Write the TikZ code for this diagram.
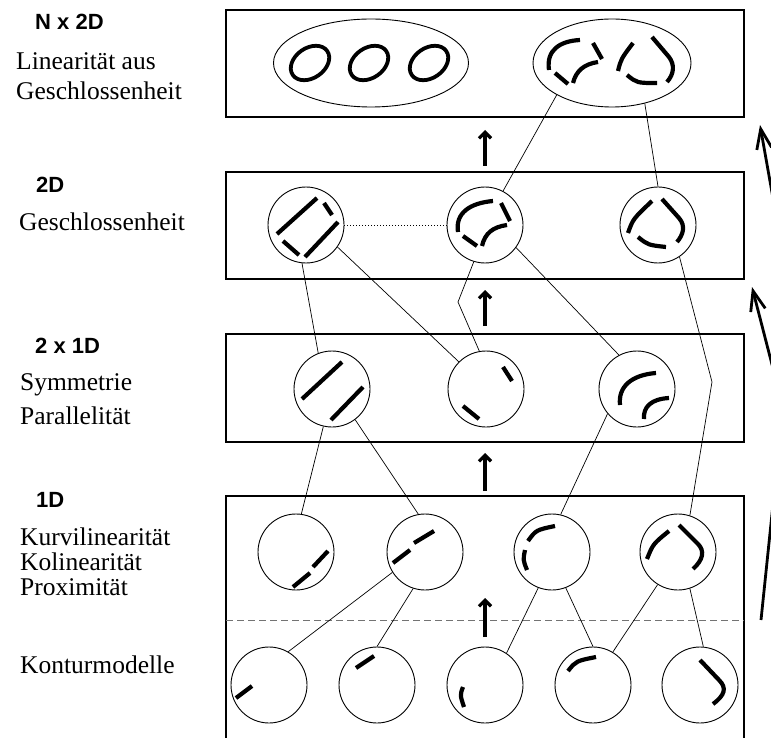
\documentclass[tikz,border=0pt]{standalone}
\usepackage{fontspec}
\setmainfont{Liberation Serif}
\newfontfamily\labelfont{Liberation Sans}
\usetikzlibrary{shapes.geometric,arrows.meta}

\begin{document}
\begin{tikzpicture}[x=1pt,y=-1pt,
  frame/.style={line width=1.3pt},
  blob/.style={draw, circle, minimum size=76pt, inner sep=0pt, line width=0.9pt},
  group/.style={draw, ellipse, inner sep=0pt, line width=0.9pt},
  link/.style={line width=0.7pt},
  seg/.style={line width=4.2pt},
  ring/.style={line width=3.8pt},
  lift/.style={line width=3.2pt, -{Straight Barb[length=6pt,width=12pt]}},
  bigarrow/.style={line width=2.8pt, -{Straight Barb[length=20pt,width=15pt]}},
  level/.style={font=\labelfont\bfseries\fontsize{22}{26}\selectfont, anchor=base west, inner sep=0pt},
  note/.style={font=\fontsize{25.5}{30}\selectfont, anchor=base west, inner sep=0pt},
]
\useasboundingbox (0,0) rectangle (771,738);
\begin{scope}
\clip (0,0) rectangle (771,738);

% level frames
\draw[frame] (226,10) rectangle (744,117);
\draw[frame] (226,172) rectangle (744,279);
\draw[frame] (226,334) rectangle (744,442);
\draw[frame] (226,760) -- (226,496) -- (744,496) -- (744,760);
\draw[line width=0.9pt, black!55, dash pattern=on 7pt off 4pt] (226,620) -- (744,620);

% level labels
\node[level] (t0) at (35,30) {N x 2D};
\node[note] (t1) at (16,70) {Linearität aus};
\node[note] (t2) at (16,100) {Geschlossenheit};
\node[level] (t3) at (36,193) {2D};
\node[note] (t4) at (19,230) {Geschlossenheit};
\node[level] (t5) at (35,353) {2 x 1D};
\node[note] (t6) at (20,390) {Symmetrie};
\node[note] (t7) at (20,424) {Parallelität};
\node[level] (t8) at (36,507) {1D};
\node[note] (t9) at (20,545) {Kurvilinearität};
\node[note] (t10) at (20,570) {Kolinearität};
\node[note] (t11) at (20,595) {Proximität};
\node[note] (t12) at (20,673) {Konturmodelle};

% N x 2D groups
\node[group, minimum width=195pt, minimum height=88pt] (E1) at (371,63) {};
\node[group, minimum width=158pt, minimum height=88pt] (E2) at (612,63) {};
% 2D
\node[blob] (A1) at (306,225) {};
\node[blob] (A2) at (485,225) {};
\node[blob] (A3) at (658,225) {};
% 2 x 1D
\node[blob] (B1) at (332,389) {};
\node[blob] (B2) at (486,389) {};
\node[blob] (B3) at (637,389) {};
% 1D
\node[blob] (C1) at (296,552) {};
\node[blob] (C2) at (425,552) {};
\node[blob] (C3) at (552,552) {};
\node[blob] (C4) at (678,552) {};
% contour models
\node[blob] (D1) at (269,685) {};
\node[blob] (D2) at (377,685) {};
\node[blob] (D3) at (485,685) {};
\node[blob] (D4) at (593,685) {};
\node[blob] (D5) at (700,685) {};

% closed contours
\foreach \cx in {310,369,429}
  \draw[ring, rotate around={35:(\cx,63)}] (\cx,63) ellipse [x radius=21, y radius=15];

% contour fragments
\begin{scope}[shift={(E2.center)}]
  \draw[seg] (-63,7) .. controls (-66,-13) and (-52,-22) .. (-32,-23);
  \draw[seg] (-19,-20) -- (-10,-4);
  \draw[seg] (-14,-1) .. controls (-28,1) and (-36,8) .. (-39,20);
  \draw[seg] (-57,10) -- (-44,21);
  \draw[seg] (6,8) .. controls (9,-4) .. (21,-20);
  \draw[seg] (40,-26) -- (57,-6) .. controls (63,2) and (62,11) .. (55,19);
  \draw[seg] (15,12) .. controls (25,20) .. (45,20);
\end{scope}
\begin{scope}[shift={(A1.center)}]
  \draw[seg] (-29,9) -- (11,-27);
  \draw[seg] (18,-22) -- (26,-10);
  \draw[seg] (-1,32) -- (32,-3);
  \draw[seg] (-23,16) -- (-7,30);
\end{scope}
\begin{scope}[shift={(A2.center)}]
  \draw[seg] (-27,7) .. controls (-30,-12) and (-15,-22) .. (8,-24);
  \draw[seg] (16,-22) -- (25,-4);
  \draw[seg] (22,0) .. controls (8,2) and (0,8) .. (-3,21);
  \draw[seg] (-22,11) -- (-8,21);
\end{scope}
\begin{scope}[shift={(A3.center)}]
  \draw[seg] (-30,8) .. controls (-25,-6) .. (-6,-24);
  \draw[seg] (4,-26) -- (21,-7) .. controls (28,1) and (25,10) .. (19,17);
  \draw[seg] (-20,12) .. controls (-10,20) .. (8,22);
\end{scope}
\begin{scope}[shift={(B1.center)}]
  \draw[seg] (-30,10) -- (10,-27);
  \draw[seg] (-1,31) -- (31,-2);
\end{scope}
\begin{scope}[shift={(B2.center)}]
  \draw[seg] (17,-22) -- (26,-8);
  \draw[seg] (-23,17) -- (-7,30);
\end{scope}
\begin{scope}[shift={(B3.center)}]
  \draw[seg] (-17,16) .. controls (-19,-2) and (-6,-14) .. (19,-16);
  \draw[seg] (7,30) .. controls (6,18) and (14,10) .. (32,9);
\end{scope}
\begin{scope}[shift={(C1.center)}]
  \draw[seg] (-3,35) -- (14,21);
  \draw[seg] (17,15) -- (32,-1);
\end{scope}
\begin{scope}[shift={(C2.center)}]
  \draw[seg] (-32,11) -- (-15,-2);
  \draw[seg] (-11,-9) -- (9,-21);
\end{scope}
\begin{scope}[shift={(C3.center)}]
  \draw[seg] (-24,-11) .. controls (-16,-22) .. (3,-26);
  \draw[seg] (-27,-2) .. controls (-29,8) .. (-25,18);
\end{scope}
\begin{scope}[shift={(C4.center)}]
  \draw[seg] (-31,7) .. controls (-25,-8) .. (-9,-21);
  \draw[seg] (1,-27) -- (20,-8) .. controls (27,-1) and (25,8) .. (15,17);
\end{scope}
\begin{scope}[shift={(D1.center)}]
  \draw[seg] (-33,13) -- (-17,1);
\end{scope}
\begin{scope}[shift={(D2.center)}]
  \draw[seg] (-21,-17) -- (-3,-29);
\end{scope}
\begin{scope}[shift={(D3.center)}]
  \draw[seg] (-22,2) .. controls (-25,10) .. (-21,22);
\end{scope}
\begin{scope}[shift={(D4.center)}]
  \draw[seg] (-25,-14) .. controls (-17,-24) .. (3,-28);
\end{scope}
\begin{scope}[shift={(D5.center)}]
  \draw[seg] (0,-25) -- (19,-5) .. controls (27,3) and (25,10) .. (13,19);
\end{scope}

% links between levels
\coordinate (k1) at (458,302);
\coordinate (k2) at (712,382);
\draw[link] (A2.62) -- (E2.210);
\draw[link] (A3.90) -- (E2.309);
\draw[link, dash pattern=on 1pt off 2pt] (A1.east) -- (A2.west);
\draw[link] (A1.264) -- (B1.111);
\draw[link] (A1.325) -- (B2.135);
\draw[link] (A2.253) -- (k1) -- (B2.100);
\draw[link] (A2.324) -- (B3.118);
\draw[link] (A3.304) -- (k2) -- (C4.72);
\draw[link] (B1.257) -- (C1.82);
\draw[link] (B1.307) -- (C2.100);
\draw[link] (B3.220) -- (C3.77);
\draw[link] (C2.212) -- (D1.60);
\draw[link] (C2.252) -- (D2.90);
\draw[link] (C3.249) -- (D3.56);
\draw[link] (C3.291) -- (D4.90);
\draw[link] (C4.238) -- (D4.59);
\draw[link] (C4.288) -- (D5.85);

% upward arrows between levels
\coordinate (u1a) at (485,166); \coordinate (u1b) at (485,130);
\coordinate (u2a) at (485,326); \coordinate (u2b) at (485,290);
\coordinate (u3a) at (485,491); \coordinate (u3b) at (485,453);
\coordinate (u4a) at (485,637); \coordinate (u4b) at (485,598);
\draw[lift] (u1a) -- (u1b);
\draw[lift] (u2a) -- (u2b);
\draw[lift] (u3a) -- (u3b);
\draw[lift] (u4a) -- (u4b);

% long arrows on the right side
\coordinate (r1a) at (776,215); \coordinate (r1b) at (760,125);
\coordinate (r2a) at (776,380); \coordinate (r2b) at (752,287);
\coordinate (r3a) at (761,620); \coordinate (r3b) at (778,456);
\draw[bigarrow] (r1a) -- (r1b);
\draw[bigarrow] (r2a) -- (r2b);
\draw[line width=2.8pt] (r3a) -- (r3b);
\end{scope}
\end{tikzpicture}
\end{document}
